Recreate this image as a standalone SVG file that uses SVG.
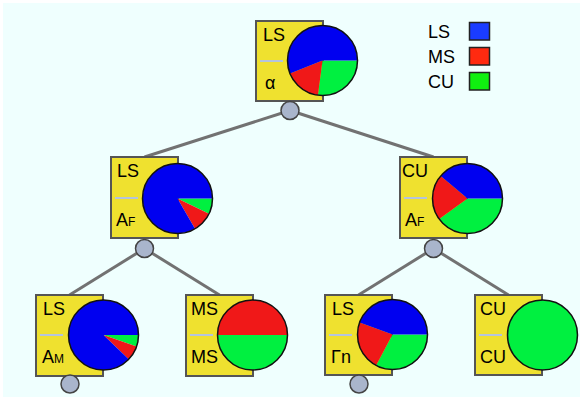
<svg xmlns="http://www.w3.org/2000/svg" width="580" height="397" viewBox="0 0 580 397">
<style>
.bg{fill:#effffe}
.box{fill:#efe12f;stroke:#555;stroke-width:2}
.sep{stroke:#b4c4dc;stroke-width:2}
.t{font-family:"Liberation Sans",Arial,sans-serif;font-size:18px;fill:#000}
.sm{font-size:12px}
.b{fill:#0000f0}
.r{fill:#f01818}
.g{fill:#00f040}
.ring{fill:none;stroke:#111;stroke-width:1.5}
.knob{fill:#a9b5cc;stroke:#444;stroke-width:1.5}
.conn{stroke:#727272;stroke-width:3;fill:none}
.lg{stroke:#222;stroke-width:1.5}
</style>
<rect class="bg" x="3" y="3" width="577" height="394"/>
<g id="connectors">
<line class="conn" x1="290" y1="110.5" x2="144.5" y2="157"/>
<line class="conn" x1="290" y1="110.5" x2="433.5" y2="157"/>
<line class="conn" x1="144.5" y1="248.5" x2="69.5" y2="295"/>
<line class="conn" x1="144.5" y1="248.5" x2="219.5" y2="295"/>
<line class="conn" x1="433.5" y1="248.5" x2="358.5" y2="295"/>
<line class="conn" x1="433.5" y1="248.5" x2="508.5" y2="295"/>
</g>
<g id="root">
<rect class="box" x="256" y="21" width="67" height="80"/>
<text class="t" x="263" y="41">LS</text>
<line class="sep" x1="260" y1="61" x2="283" y2="61"/>
<text class="t" x="265" y="89">α</text>
<path class="g" d="M322.5,60.5 L357.5,60.5 A35,35 0 0 1 317.93,95.2 Z"/>
<path class="r" d="M322.5,60.5 L317.93,95.2 A35,35 0 0 1 290.05,73.61 Z"/>
<path class="b" d="M322.5,60.5 L290.05,73.61 A35,35 0 1 1 357.5,60.5 Z"/>
<circle class="ring" cx="322.5" cy="60.5" r="35"/>
<circle class="knob" cx="290" cy="110.5" r="9"/>
</g>
<g id="af-left">
<rect class="box" x="111" y="157" width="67" height="81"/>
<text class="t" x="117" y="177">LS</text>
<line class="sep" x1="115" y1="198" x2="138" y2="198"/>
<text class="t" x="116" y="226">A<tspan class="sm">F</tspan></text>
<path class="g" d="M177.5,198.5 L212.5,198.5 A35,35 0 0 1 208.96,213.84 Z"/>
<path class="r" d="M177.5,198.5 L208.96,213.84 A35,35 0 0 1 195,228.81 Z"/>
<path class="b" d="M177.5,198.5 L195,228.81 A35,35 0 1 1 212.5,198.5 Z"/>
<circle class="ring" cx="177.5" cy="198.5" r="35"/>
<circle class="knob" cx="144.5" cy="248.5" r="9"/>
</g>
<g id="af-right">
<rect class="box" x="400" y="157" width="67" height="81"/>
<text class="t" x="402" y="177">CU</text>
<line class="sep" x1="404" y1="198" x2="427" y2="198"/>
<text class="t" x="405" y="226">A<tspan class="sm">F</tspan></text>
<path class="g" d="M467.5,198.5 L502.5,198.5 A35,35 0 0 1 439.18,219.07 Z"/>
<path class="r" d="M467.5,198.5 L439.18,219.07 A35,35 0 0 1 440.69,176 Z"/>
<path class="b" d="M467.5,198.5 L440.69,176 A35,35 0 0 1 502.5,198.5 Z"/>
<circle class="ring" cx="467.5" cy="198.5" r="35"/>
<circle class="knob" cx="433.5" cy="248.5" r="9"/>
</g>
<g id="leaf-am">
<rect class="box" x="36" y="295" width="67" height="81"/>
<text class="t" x="43" y="315">LS</text>
<line class="sep" x1="40" y1="335" x2="63" y2="335"/>
<text class="t" x="42" y="363">A<tspan class="sm">M</tspan></text>
<path class="g" d="M103.5,335 L138.5,335 A35,35 0 0 1 136.59,346.4 Z"/>
<path class="r" d="M103.5,335 L136.59,346.4 A35,35 0 0 1 128.68,359.31 Z"/>
<path class="b" d="M103.5,335 L128.68,359.31 A35,35 0 1 1 138.5,335 Z"/>
<circle class="ring" cx="103.5" cy="335" r="35"/>
<circle class="knob" cx="70" cy="384" r="9"/>
</g>
<g id="leaf-ms">
<rect class="box" x="186" y="295" width="67" height="81"/>
<text class="t" x="191" y="315">MS</text>
<line class="sep" x1="190" y1="335" x2="213" y2="335"/>
<text class="t" x="191" y="363">MS</text>
<path class="r" d="M217.5,335 A35,35 0 0 1 287.5,335 Z"/>
<path class="g" d="M287.5,335 A35,35 0 0 1 217.5,335 Z"/>
<circle class="ring" cx="252.5" cy="335" r="35"/>
</g>
<g id="leaf-gn">
<rect class="box" x="325" y="295" width="67" height="80"/>
<text class="t" x="332" y="315">LS</text>
<line class="sep" x1="329" y1="335" x2="352" y2="335"/>
<text class="t" x="331" y="363">Γn</text>
<path class="g" d="M392.5,334.5 L427.5,334.5 A35,35 0 0 1 376.07,365.4 Z"/>
<path class="r" d="M392.5,334.5 L376.07,365.4 A35,35 0 0 1 359.61,322.53 Z"/>
<path class="b" d="M392.5,334.5 L359.61,322.53 A35,35 0 0 1 427.5,334.5 Z"/>
<circle class="ring" cx="392.5" cy="334.5" r="35"/>
<circle class="knob" cx="359" cy="384" r="9"/>
</g>
<g id="leaf-cu">
<rect class="box" x="475" y="295" width="67" height="80"/>
<text class="t" x="480" y="315">CU</text>
<line class="sep" x1="479" y1="335" x2="502" y2="335"/>
<text class="t" x="480" y="363">CU</text>
<circle class="g" cx="542.5" cy="335" r="35"/>
<circle class="ring" cx="542.5" cy="335" r="35"/>
</g>
<g id="legend">
<text class="t" x="428" y="38">LS</text>
<rect class="lg" x="469.5" y="22.5" width="20" height="17.5" fill="#1a3cff"/>
<text class="t" x="428" y="63">MS</text>
<rect class="lg" x="469.5" y="47.5" width="20" height="17.5" fill="#ff2a10"/>
<text class="t" x="428" y="88">CU</text>
<rect class="lg" x="469.5" y="72.5" width="20" height="17.5" fill="#10f010"/>
</g>
</svg>
